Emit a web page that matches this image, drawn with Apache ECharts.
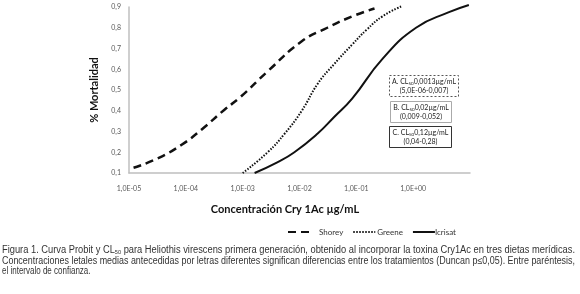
<!DOCTYPE html>
<html>
<head>
<meta charset="utf-8">
<script src="https://cdn.jsdelivr.net/npm/echarts@6/dist/echarts.min.js"></script>
<style>
  html, body { margin: 0; padding: 0; background: #fff; }
  #chart { width: 580px; height: 294px; }
</style>
</head>
<body>
<div id="chart"></div>
<script>
// log10 of concentration (ug/mL) and mortality
var shoreyLog = [-4.92, -4.5, -4.08, -3.72, -3.32, -3.04, -2.56, -1.96, -1.51, -1.07, -0.68];
var shoreyVal = [0.125, 0.17, 0.235, 0.31, 0.405, 0.466, 0.59, 0.735, 0.8, 0.855, 0.893];

var greeneLog = [-3.0, -2.56, -2.26, -1.96, -1.68, -1.39, -1.07, -0.82, -0.54, -0.19];
var greeneVal = [0.1, 0.2, 0.29, 0.4, 0.53, 0.625, 0.72, 0.79, 0.855, 0.905];

var icrisatLog = [-2.79, -2.4, -2.09, -1.68, -1.39, -1.07, -0.54, 0.05, 0.63, 0.98];
var icrisatVal = [0.1, 0.15, 0.2, 0.29, 0.37, 0.46, 0.65, 0.8, 0.875, 0.91];

var seriesNames = ['Shorey', 'Greene', 'Icrisat'];

var boxTexts = [
  ['A. CL{sub|50}0,0013\u00b5g/mL', '(5,0E-06-0,007)'],
  ['B. CL{sub|50}0,02\u00b5g/mL', '(0,009-0,052)'],
  ['C. CL{sub|50}0,12\u00b5g/mL', '(0,04-0,28)']
];

var captionLines = [
  'Figura 1. Curva Probit y CL{sub|50} para Heliothis virescens primera generación, obtenido al incorporar la toxina Cry1Ac en tres dietas merídicas.',
  'Concentraciones letales medias antecedidas por letras diferentes significan diferencias entre los tratamientos (Duncan p\u22640,05). Entre paréntesis,',
  'el intervalo de confianza.'
];

function toPairs(logs, vals) {
  return logs.map(function (l, i) { return [Math.pow(10, l), vals[i]]; });
}

function expLabel(v) {
  var e = Math.round(Math.log10(v));
  var s = e < 0 ? '-' : '+';
  var a = Math.abs(e);
  return '1,0E' + s + (a < 10 ? '0' + a : a);
}

var chartFont = 'Lato, "Open Sans", sans-serif';
var capFont = '"Liberation Sans", Arial, sans-serif';

// measure caption lines so they can be squeezed to the narrow width of the original
var measureCtx = document.createElement('canvas').getContext('2d');
function lineWidth(line) {
  var parts = line.split('{sub|50}');
  measureCtx.font = '10px ' + capFont;
  var w = measureCtx.measureText(parts.join('')).width;
  if (parts.length > 1) {
    measureCtx.font = '6px ' + capFont;
    w += measureCtx.measureText('50').width;
  }
  return w;
}

var chart = echarts.init(document.getElementById('chart'));

var boxStyles = [
  { stroke: '#555', lineDash: [2, 2], x: 389, y: 75, w: 69, h: 21 },
  { stroke: '#aaa', lineDash: null, x: 390, y: 101, w: 61, h: 21 },
  { stroke: '#333', lineDash: null, x: 389, y: 126, w: 62, h: 21 }
];

var graphics = [];
boxStyles.forEach(function (b, i) {
  graphics.push({
    type: 'rect',
    shape: { x: b.x + 0.5, y: b.y + 0.5, width: b.w, height: b.h },
    style: { fill: '#fff', stroke: b.stroke, lineWidth: 1, lineDash: b.lineDash },
    z: 100
  });
  graphics.push({
    type: 'text',
    x: b.x + b.w / 2 + 0.5,
    y: b.y + b.h / 2 + 1,
    style: {
      text: boxTexts[i].join('\n'),
      align: 'center',
      verticalAlign: 'middle',
      font: '7px ' + chartFont,
      fill: '#222',
      lineHeight: 9,
      rich: {
        sub: { fontSize: 4.5, fontFamily: 'Lato', fill: '#222', padding: [3, 0, 0, 0], lineHeight: 9 }
      }
    },
    z: 101
  });
});

graphics.push({
  type: 'text',
  x: 285, y: 209,
  style: {
    text: 'Concentración Cry 1Ac \u00b5g/mL',
    align: 'center', verticalAlign: 'middle',
    font: 'bold 11px ' + chartFont, fill: '#111'
  }
});

var capY = [250, 261, 271];
var capTarget = [573, 573, 0];
captionLines.forEach(function (line, i) {
  var sx = capTarget[i] ? capTarget[i] / lineWidth(line) : 0.8;
  graphics.push({
    type: 'text',
    x: 2, y: capY[i],
    scaleX: sx,
    style: {
      text: line,
      align: 'left', verticalAlign: 'middle',
      font: '10px ' + capFont, fill: '#333',
      rich: {
        sub: { fontSize: 6, fontFamily: capFont, fill: '#333', padding: [4, 0, 0, 0] }
      }
    }
  });
});

var option = {
  backgroundColor: '#fff',
  animation: false,
  color: ['#111', '#111', '#111'],
  grid: { left: 129, right: 110, top: 7, bottom: 121 },
  xAxis: {
    type: 'log',
    logBase: 10,
    min: 1e-5,
    max: 10,
    axisLine: { show: true, lineStyle: { color: '#bfbfbf', width: 1.5 } },
    axisTick: { show: false },
    splitLine: { show: false },
    axisLabel: {
      fontSize: 7, fontFamily: chartFont, color: '#595959', margin: 12,
      showMaxLabel: false,
      formatter: function (v) { return v > 5 ? '' : expLabel(v); }
    }
  },
  yAxis: {
    type: 'value',
    min: 0.1,
    max: 0.9,
    interval: 0.1,
    name: '% Mortalidad',
    nameLocation: 'middle',
    nameGap: 12,
    nameTextStyle: { fontSize: 11, fontWeight: 'bold', fontFamily: chartFont, color: '#111' },
    axisLine: { show: true, lineStyle: { color: '#bfbfbf', width: 1.5 } },
    axisTick: { show: false },
    splitLine: { show: false },
    axisLabel: {
      fontSize: 7, fontFamily: chartFont, color: '#595959', margin: 8,
      formatter: function (v) { return v.toFixed(1).replace('.', ','); }
    }
  },
  legend: {
    left: 282,
    top: 223,
    itemWidth: 22,
    itemHeight: 10,
    itemGap: 9,
    itemStyle: { opacity: 0 },
    textStyle: { fontSize: 8, fontFamily: chartFont, color: '#333' },
    data: [
      { name: seriesNames[0], textStyle: { padding: [0, 0, 0, 4] } },
      { name: seriesNames[1], textStyle: { padding: [0, 20, 0, -3] } },
      { name: seriesNames[2], textStyle: { padding: [0, 0, 0, -5] } }
    ]
  },
  series: [
    {
      name: seriesNames[0], type: 'line', smooth: true, symbol: 'none', clip: false,
      lineStyle: { color: '#111', width: 2.5, type: [8, 5] },
      data: toPairs(shoreyLog, shoreyVal)
    },
    {
      name: seriesNames[1], type: 'line', smooth: true, symbol: 'none', clip: false,
      lineStyle: { color: '#111', width: 2, type: [1.5, 1.5] },
      data: toPairs(greeneLog, greeneVal)
    },
    {
      name: seriesNames[2], type: 'line', smooth: true, symbol: 'none', clip: false,
      lineStyle: { color: '#111', width: 2 },
      data: toPairs(icrisatLog, icrisatVal)
    }
  ],
  graphic: graphics
};

chart.setOption(option);
</script>
</body>
</html>
